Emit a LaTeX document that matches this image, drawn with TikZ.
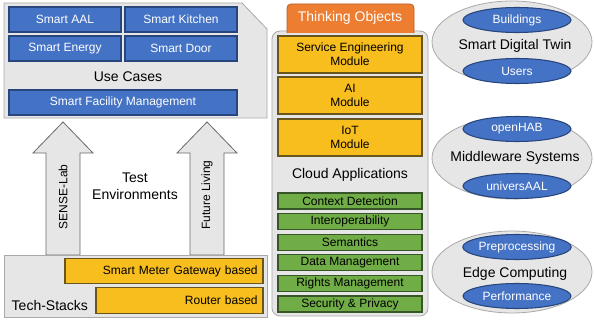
\documentclass[tikz,border=0pt]{standalone}
\usepackage{fontspec}
\setmainfont{Liberation Sans}
\usetikzlibrary{shapes.geometric}
\definecolor{panelgray}{RGB}{231,230,230}
\definecolor{panelborder}{RGB}{170,168,168}
\definecolor{boxblue}{RGB}{68,114,196}
\definecolor{boxblueborder}{RGB}{40,70,125}
\definecolor{moduleyellow}{RGB}{247,190,30}
\definecolor{moduleborder}{RGB}{105,85,30}
\definecolor{servicegreen}{RGB}{112,173,71}
\definecolor{serviceborder}{RGB}{55,85,40}
\definecolor{taborange}{RGB}{237,125,49}
\definecolor{tabborder}{RGB}{185,95,35}
\definecolor{arrowborder}{RGB}{105,105,105}

\begin{document}
\begin{tikzpicture}[
    x=0.75pt, y=-0.75pt,
    bluebox/.style={fill=boxblue, draw=boxblueborder, line width=0.8pt, text=white, font=\fontsize{9}{10.5}\selectfont, minimum height=18.75pt, inner sep=0pt},
    modulebox/.style={fill=moduleyellow, draw=moduleborder, line width=0.8pt, text=black, font=\fontsize{9}{10.5}\selectfont, align=center, minimum width=108pt, minimum height=27.75pt, inner sep=0pt},
    servicebox/.style={fill=servicegreen, draw=serviceborder, line width=0.8pt, text=black, font=\fontsize{9}{10.5}\selectfont, minimum width=108pt, minimum height=12pt, inner sep=0pt},
    stackbox/.style={fill=moduleyellow, draw=moduleborder, line width=0.8pt, text=black, font=\fontsize{9}{10.5}\selectfont, align=right, minimum height=19pt, inner xsep=4pt, inner ysep=0pt},
    outerellipse/.style={ellipse, fill=panelgray, draw=panelborder, line width=0.6pt, minimum width=120pt, minimum height=61.5pt, inner sep=0pt},
    innerellipse/.style={ellipse, fill=boxblue, draw=boxblueborder, line width=0.8pt, text=white, font=\fontsize{9}{10.5}\selectfont, minimum width=81pt, minimum height=18.75pt, inner sep=0pt},
    panel/.style={fill=panelgray, draw=panelborder, line width=0.6pt},
    label/.style={text=black, font=\fontsize{10.5}{12.5}\selectfont, align=center}
]

\useasboundingbox (0,0) rectangle (594,320);
\fill[white] (0,0) rectangle (594,320);

% Use Cases Panel
\draw[panel] (4,3) -- (242,3) -- (267,29) -- (267,118) -- (4,118) -- cycle;
\node[bluebox, minimum width=84pt] (aal) at (65,19.5) {Smart AAL};
\node[bluebox, minimum width=84pt] (kitchen) at (181,19.5) {Smart Kitchen};
\node[bluebox, minimum width=84pt] (energy) at (65,48.5) {Smart Energy};
\node[bluebox, minimum width=84pt] (door) at (181,48.5) {Smart Door};
\node[label] (usecases) at (128,77) {Use Cases};
\node[bluebox, minimum width=171pt] (facility) at (123,102.5) {Smart Facility Management};

% Test Environments (block arrows)
\draw[panel, draw=arrowborder] (46,255) -- (46,153) -- (33,153) -- (63,122) -- (93,153) -- (80,153) -- (80,255) -- cycle;
\draw[panel, draw=arrowborder] (190,255) -- (190,153) -- (177,153) -- (207,122) -- (237,153) -- (224,153) -- (224,255) -- cycle;
\node[rotate=90, font=\fontsize{9}{10.5}\selectfont] (senselab) at (63,197) {SENSE-Lab};
\node[rotate=90, font=\fontsize{9}{10.5}\selectfont] (futureliving) at (207,195) {Future Living};
\node[label] (testenv) at (135,186) {Test\\Environments};

% Tech-Stacks Panel
\draw[panel] (4,255) rectangle (267,317);
\node[stackbox, text width=140.5pt] (gateway) at (164,271) {Smart Meter Gateway based};
\node[stackbox, text width=117.25pt] (router) at (179.5,300.5) {Router based};
\node[label, anchor=west] (techstacks) at (7,305) {Tech-Stacks};

% Cloud Applications Panel
\draw[panel, rounded corners=6pt] (272,31) rectangle (428,316);
\draw[fill=taborange, draw=tabborder, line width=0.6pt, rounded corners=3pt] (287,33) -- (287,4) -- (414,4) -- (414,33);
\node[label, text=white] (thinking) at (350,18) {Thinking Objects};
\node[modulebox] (semodule) at (350,54.5) {Service Engineering\\Module};
\node[modulebox] (aimodule) at (350,95.5) {AI\\Module};
\node[modulebox] (iotmodule) at (350,137.5) {IoT\\Module};
\node[label] (cloudapps) at (350,175) {Cloud Applications};
\foreach \name [count=\i from 0] in {Context Detection, Interoperability, Semantics, Data Management, Rights Management, Security \& Privacy}
    \node[servicebox] (service\i) at (350,{201+20.6*\i}) {\name};

% Smart Digital Twin
\node[outerellipse] (twin) at (512,42) {};
\node[innerellipse] (buildings) at (517,20) {Buildings};
\node[innerellipse] (users) at (517,71) {Users};
\node[label] at (515,46) {Smart Digital Twin};

% Middleware Systems
\node[outerellipse] (middleware) at (512,158) {};
\node[innerellipse] (openhab) at (517,129) {openHAB};
\node[innerellipse] (universaal) at (517,186) {universAAL};
\node[label] at (515,158) {Middleware Systems};

% Edge Computing
\node[outerellipse] (edge) at (512,272) {};
\node[innerellipse] (preprocessing) at (517,247) {Preprocessing};
\node[innerellipse] (performance) at (517,296) {Performance};
\node[label] at (515,274) {Edge Computing};

\end{tikzpicture}
\end{document}
